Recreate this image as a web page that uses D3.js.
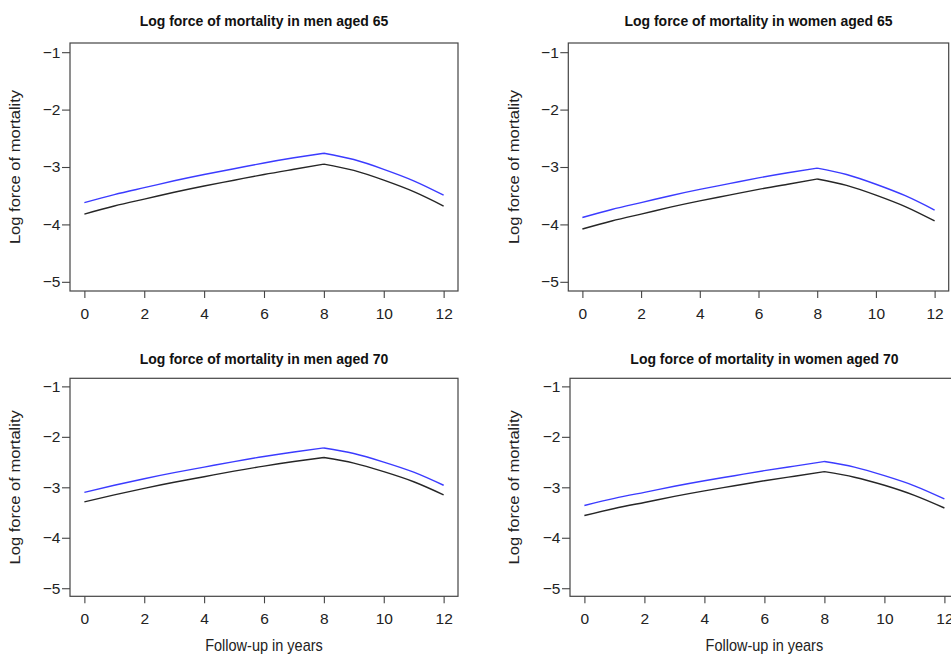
<!DOCTYPE html>
<html>
<head>
<meta charset="utf-8">
<script src="https://cdn.jsdelivr.net/npm/d3@7/dist/d3.min.js"></script>
<style>
  body { margin: 0; background: #fff; }
  svg { display: block; }
  text { font-family: "Liberation Sans", Arial, sans-serif; fill: #222; }
</style>
</head>
<body>
<script>
// follow-up time (years) and the axis ticks
var years = [0, 1, 2, 3, 4, 5, 6, 7, 8, 9, 10, 11, 12];
var knotYear = 8;
var xTicks = [0, 2, 4, 6, 8, 10, 12];
var yTicks = [-1, -2, -3, -4, -5];

var titles = [
    "Log force of mortality in men aged 65",
    "Log force of mortality in women aged 65",
    "Log force of mortality in men aged 70",
    "Log force of mortality in women aged 70"
];

// blue (upper) and black (lower) curves
var men65Upper   = [-3.62, -3.48, -3.36, -3.24, -3.13, -3.03, -2.93, -2.84, -2.76, -2.87, -3.04, -3.24, -3.49];
var men65Lower   = [-3.82, -3.68, -3.56, -3.44, -3.33, -3.23, -3.13, -3.04, -2.95, -3.06, -3.23, -3.43, -3.68];
var women65Upper = [-3.88, -3.74, -3.62, -3.50, -3.39, -3.29, -3.19, -3.10, -3.02, -3.13, -3.30, -3.50, -3.75];
var women65Lower = [-4.08, -3.94, -3.82, -3.70, -3.59, -3.49, -3.39, -3.30, -3.21, -3.32, -3.49, -3.69, -3.94];
var men70Upper   = [-3.10, -2.96, -2.83, -2.71, -2.60, -2.49, -2.39, -2.30, -2.22, -2.33, -2.50, -2.70, -2.96];
var men70Lower   = [-3.29, -3.15, -3.02, -2.90, -2.79, -2.68, -2.58, -2.49, -2.41, -2.52, -2.69, -2.89, -3.15];
var women70Upper = [-3.36, -3.22, -3.10, -2.98, -2.87, -2.77, -2.67, -2.58, -2.49, -2.60, -2.77, -2.97, -3.23];
var women70Lower = [-3.56, -3.42, -3.30, -3.18, -3.07, -2.97, -2.87, -2.78, -2.69, -2.80, -2.96, -3.16, -3.41];

var upperSeries = [men65Upper, women65Upper, men70Upper, women70Upper];
var lowerSeries = [men65Lower, women65Lower, men70Lower, women70Lower];

// plot boxes of the four panels (the panels were not all the same size)
var frames = [
    { left: 70,    right: 458,   top: 43,    bottom: 291,   titleY: 26,    labelX: 20,  xlab: false },
    { left: 568.3, right: 948.7, top: 43,    bottom: 291,   titleY: 26,    labelX: 519, xlab: false },
    { left: 70,    right: 458,   top: 378.3, bottom: 596.3, titleY: 364.3, labelX: 20,  xlab: true },
    { left: 570,   right: 958.8, top: 378.3, bottom: 596.3, titleY: 364.3, labelX: 519, xlab: true }
];

var width = 951;
var height = 654;
var stretch = 1.1; // the source picture was squeezed a bit sideways

var svg = d3.select("body")
    .append("svg")
    .attr("width", width)
    .attr("height", height);

frames.forEach((f, i) => {
    // R style axes: 4% padding on both sides of the data range
    var x = d3.scaleLinear().domain([-0.48, 12.48]).range([f.left, f.right]);
    var y = d3.scaleLinear().domain([-5.16, -0.84]).range([f.bottom, f.top]);

    var g = svg.append("g");

    // x axis ticks
    g.append("g")
        .attr("transform", `translate(0,${f.bottom})`)
        .call(d3.axisBottom(x).tickValues(xTicks).tickSize(7).tickPadding(10).tickFormat(d3.format("d")))
        .call(a => a.select(".domain").remove())
        .call(a => a.selectAll("line").attr("stroke", "#444").attr("stroke-width", 1.1))
        .call(a => a.selectAll("text").attr("font-size", "15.5px").attr("fill", "#222")
            .style("font-family", "'Liberation Sans', Arial, sans-serif"));

    // y axis ticks (d3 format gives a real minus sign, like R on Windows)
    g.append("g")
        .attr("transform", `translate(${f.left},0)`)
        .call(d3.axisLeft(y).tickValues(yTicks).tickSize(8).tickPadding(1.5).tickFormat(d3.format("d")))
        .call(a => a.select(".domain").remove())
        .call(a => a.selectAll("line").attr("stroke", "#444").attr("stroke-width", 1.1))
        .call(a => a.selectAll("text").attr("font-size", "15.5px").attr("fill", "#222")
            .style("font-family", "'Liberation Sans', Arial, sans-serif"));

    // plot box
    g.append("rect")
        .attr("x", f.left)
        .attr("y", f.top)
        .attr("width", f.right - f.left)
        .attr("height", f.bottom - f.top)
        .attr("fill", "none")
        .attr("stroke", "#444")
        .attr("stroke-width", 1.2);

    // smooth pieces either side of the knot, with a corner at the knot
    var line = d3.line()
        .x(d => x(d[0]))
        .y(d => y(d[1]))
        .curve(d3.curveNatural);

    var drawCurve = (values, colour) => {
        var pts = years.map((t, j) => [t, values[j]]);
        var before = pts.filter(p => p[0] <= knotYear);
        var after = pts.filter(p => p[0] >= knotYear);
        g.append("path")
            .attr("d", line(before) + line(after))
            .attr("fill", "none")
            .attr("stroke", colour)
            .attr("stroke-width", 1.4)
            .attr("stroke-linejoin", "round");
    };

    drawCurve(lowerSeries[i], "#262626");
    drawCurve(upperSeries[i], "#3b3bff");

    // title
    g.append("text")
        .attr("transform", `translate(${(f.left + f.right) / 2},${f.titleY}) scale(1,${stretch})`)
        .attr("text-anchor", "middle")
        .attr("font-weight", "bold")
        .attr("font-size", "14px")
        .style("fill", "#111")
        .text(titles[i]);

    // y label
    g.append("text")
        .attr("transform", `translate(${f.labelX},${(f.top + f.bottom) / 2}) rotate(-90) scale(1.14,1)`)
        .attr("text-anchor", "middle")
        .attr("font-size", "14.5px")
        .text("Log force of mortality");

    // x label only under the bottom row
    if (f.xlab) {
        g.append("text")
            .attr("transform", `translate(${(f.left + f.right) / 2},651) scale(1,${stretch})`)
            .attr("text-anchor", "middle")
            .attr("font-size", "14.5px")
            .text("Follow-up in years");
    }
});
</script>
</body>
</html>
